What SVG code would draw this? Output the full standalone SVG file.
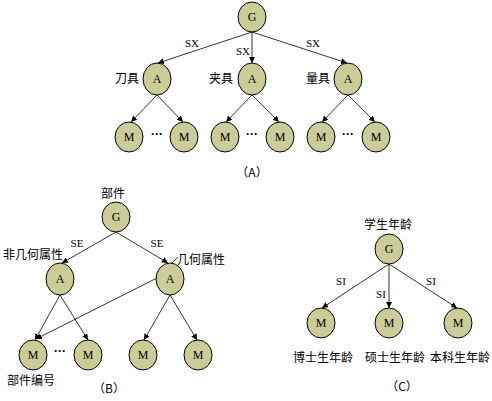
<svg xmlns="http://www.w3.org/2000/svg" width="492" height="401" viewBox="0 0 492 401">
<style>
.n{fill:#CCCC99;stroke:#000;stroke-width:1}
.t{font-family:"Liberation Serif",serif;font-size:12px;text-anchor:middle;fill:#000}
.e{font-family:"Liberation Serif",serif;font-size:11px;text-anchor:middle;fill:#000}
.c{font-family:"Noto Sans CJK SC",sans-serif;font-size:12px;fill:#000}
.l{stroke:#000;stroke-width:0.8;fill:none;marker-end:url(#ar)}
.d{font-family:"Liberation Sans",sans-serif;font-size:12px;font-weight:bold;text-anchor:middle}
</style>
<defs>
<marker id="ar" viewBox="0 0 8 8" refX="8" refY="4" markerWidth="6" markerHeight="6" orient="auto" markerUnits="userSpaceOnUse">
<path d="M0,0 L8,4 L0,8 z" fill="#000"/>
</marker>
</defs>
<rect width="492" height="401" fill="#fff"/>
<g id="connectors">
<line class="l" x1="252" y1="32" x2="158" y2="63"/>
<line class="l" x1="252" y1="32" x2="252" y2="63"/>
<line class="l" x1="252" y1="32" x2="347" y2="63"/>
<line class="l" x1="157" y1="95" x2="131" y2="122"/>
<line class="l" x1="157" y1="95" x2="183" y2="122"/>
<line class="l" x1="252" y1="95" x2="226" y2="122"/>
<line class="l" x1="252" y1="95" x2="279" y2="122"/>
<line class="l" x1="348" y1="95" x2="322" y2="122"/>
<line class="l" x1="348" y1="95" x2="375" y2="122"/>
<line class="l" x1="116" y1="232" x2="62" y2="263"/>
<line class="l" x1="116" y1="232" x2="168" y2="263"/>
<line class="l" x1="60" y1="295" x2="35" y2="340"/>
<line class="l" x1="60" y1="295" x2="88" y2="340"/>
<line class="l" x1="170" y1="295" x2="144" y2="340"/>
<line class="l" x1="170" y1="295" x2="197" y2="340"/>
<line class="l" x1="157" y1="278" x2="36" y2="339"/>
<line x1="172" y1="263" x2="178" y2="257" stroke="#000" stroke-width="0.8"/>
<line class="l" x1="389" y1="264" x2="322" y2="308"/>
<line class="l" x1="389" y1="264" x2="389" y2="308"/>
<line class="l" x1="389" y1="264" x2="457" y2="308"/>
<text class="e" x="192" y="47">SX</text>
<text class="e" x="243" y="55">SX</text>
<text class="e" x="313" y="47">SX</text>
<text class="e" x="77" y="247">SE</text>
<text class="e" x="157" y="247">SE</text>
<text class="e" x="341" y="285">SI</text>
<text class="e" x="381" y="298">SI</text>
<text class="e" x="431" y="285">SI</text>
</g>
<g id="A-G"><ellipse class="n" cx="252" cy="17" rx="14" ry="15"/><text class="t" x="252" y="21">G</text></g>
<g id="A-A1"><ellipse class="n" cx="157" cy="79" rx="14" ry="16"/><text class="t" x="157" y="83">A</text><text class="c" x="115" y="83">刀具</text></g>
<g id="A-A2"><ellipse class="n" cx="252" cy="79" rx="14" ry="16"/><text class="t" x="252" y="83">A</text><text class="c" x="209" y="83">夹具</text></g>
<g id="A-A3"><ellipse class="n" cx="348" cy="79" rx="14" ry="16"/><text class="t" x="348" y="83">A</text><text class="c" x="306" y="83">量具</text></g>
<g id="A-M1"><ellipse class="n" cx="129" cy="137" rx="14" ry="15"/><text class="t" x="129" y="141">M</text></g>
<g id="A-M2"><ellipse class="n" cx="184" cy="137" rx="14" ry="15"/><text class="t" x="184" y="141">M</text></g>
<g id="A-M3"><ellipse class="n" cx="225" cy="137" rx="14" ry="15"/><text class="t" x="225" y="141">M</text></g>
<g id="A-M4"><ellipse class="n" cx="280" cy="137" rx="14" ry="15"/><text class="t" x="280" y="141">M</text></g>
<g id="A-M5"><ellipse class="n" cx="321" cy="137" rx="14" ry="15"/><text class="t" x="321" y="141">M</text></g>
<g id="A-M6"><ellipse class="n" cx="376" cy="137" rx="14" ry="15"/><text class="t" x="376" y="141">M</text></g>
<text class="d" x="157" y="138">···</text>
<text class="d" x="252" y="138">···</text>
<text class="d" x="348" y="138">···</text>
<text class="c" x="252" y="177" text-anchor="middle" font-size="11">（A）</text>
<g id="B-G"><ellipse class="n" cx="116" cy="217" rx="14" ry="15"/><text class="t" x="116" y="221">G</text><text class="c" x="101" y="198">部件</text></g>
<g id="B-A1"><ellipse class="n" cx="60" cy="279" rx="14" ry="16"/><text class="t" x="60" y="283">A</text><text class="c" x="3" y="259">非几何属性</text></g>
<g id="B-A2"><ellipse class="n" cx="170" cy="279" rx="14" ry="16"/><text class="t" x="170" y="283">A</text><text class="c" x="177" y="264">几何属性</text></g>
<g id="B-M1"><ellipse class="n" cx="33" cy="355" rx="14" ry="15"/><text class="t" x="33" y="359">M</text><text class="c" x="7" y="385">部件编号</text></g>
<g id="B-M2"><ellipse class="n" cx="88" cy="355" rx="14" ry="15"/><text class="t" x="88" y="359">M</text></g>
<g id="B-M3"><ellipse class="n" cx="143" cy="355" rx="14" ry="15"/><text class="t" x="143" y="359">M</text></g>
<g id="B-M4"><ellipse class="n" cx="198" cy="355" rx="14" ry="15"/><text class="t" x="198" y="359">M</text></g>
<text class="d" x="60" y="355">···</text>
<text class="c" x="109" y="393" text-anchor="middle" font-size="11">（B）</text>
<g id="C-G"><ellipse class="n" cx="389" cy="249" rx="14" ry="15"/><text class="t" x="389" y="253">G</text><text class="c" x="388" y="229" text-anchor="middle">学生年龄</text></g>
<g id="C-M1"><ellipse class="n" cx="321" cy="323" rx="14" ry="15"/><text class="t" x="321" y="327">M</text><text class="c" x="323" y="362" text-anchor="middle">博士生年龄</text></g>
<g id="C-M2"><ellipse class="n" cx="389" cy="323" rx="14" ry="15"/><text class="t" x="389" y="327">M</text><text class="c" x="395" y="362" text-anchor="middle">硕士生年龄</text></g>
<g id="C-M3"><ellipse class="n" cx="458" cy="323" rx="14" ry="15"/><text class="t" x="458" y="327">M</text><text class="c" x="460" y="362" text-anchor="middle">本科生年龄</text></g>
<text class="c" x="402" y="391" text-anchor="middle" font-size="11">（C）</text>
</svg>
